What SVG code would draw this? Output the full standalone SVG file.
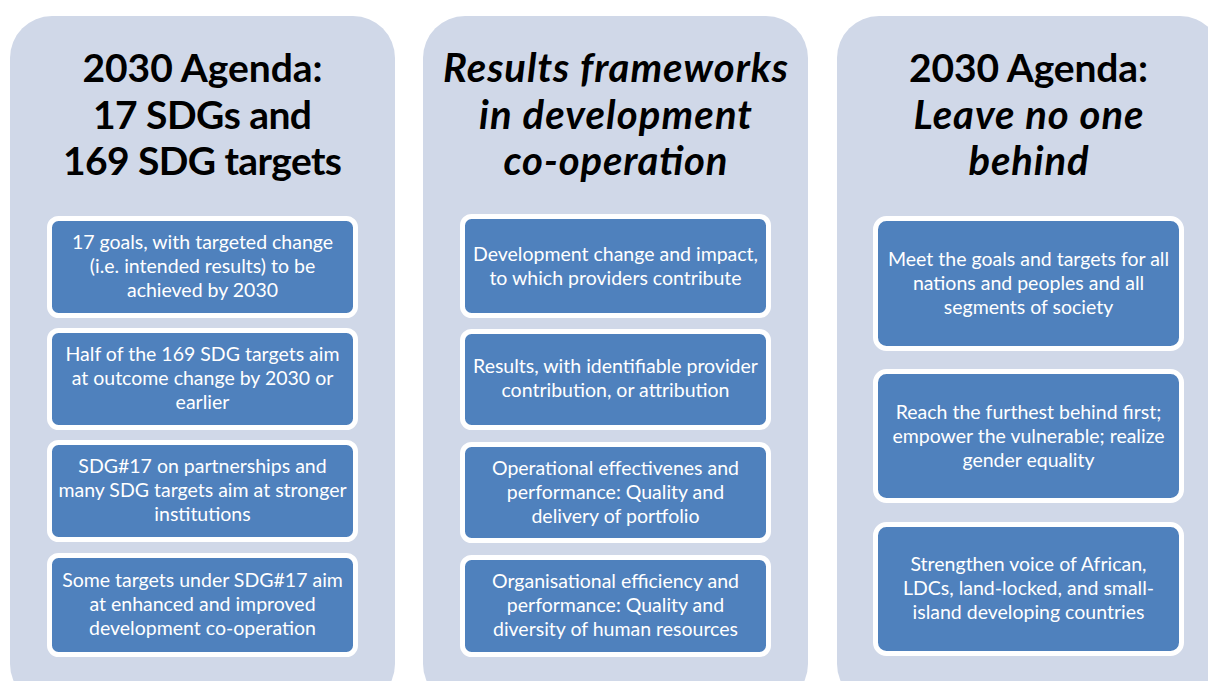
<svg xmlns="http://www.w3.org/2000/svg" width="1208" height="681" viewBox="0 0 1208 681">
<style>
.panel{fill:#D0D8E8;}
.box{fill:#4F81BD;stroke:#FFFFFF;stroke-width:5;}
.title{font-family:Lato,"Liberation Sans",sans-serif;font-weight:bold;font-size:39px;fill:#000;text-anchor:middle;}
.it{font-style:italic;font-size:40px;}
.t{font-family:Lato,"Liberation Sans",sans-serif;font-size:19.5px;fill:#FFFFFF;text-anchor:middle;}
</style>
<rect width="1208" height="681" fill="#FFFFFF"/>
<g id="panel-left">
<rect class="panel" x="10" y="16" width="385" height="690" rx="42"/>
<text class="title" x="202.5" y="82" textLength="240" lengthAdjust="spacing">2030 Agenda:</text>
<text class="title" x="202.5" y="129" textLength="219" lengthAdjust="spacing">17 SDGs and</text>
<text class="title" x="202.5" y="175" textLength="279" lengthAdjust="spacing">169 SDG targets</text>
</g>
<g id="panel-middle">
<rect class="panel" x="423" y="16" width="385" height="690" rx="42"/>
<text class="title it" x="615.5" y="82" textLength="345" lengthAdjust="spacing">Results frameworks</text>
<text class="title it" x="615.5" y="129" textLength="273" lengthAdjust="spacing">in development</text>
<text class="title it" x="615.5" y="175" textLength="224" lengthAdjust="spacing">co-operation</text>
</g>
<g id="panel-right">
<rect class="panel" x="837" y="16" width="385" height="690" rx="42"/>
<text class="title" x="1028.5" y="82" textLength="239" lengthAdjust="spacing">2030 Agenda:</text>
<text class="title it" x="1028.5" y="129" textLength="230" lengthAdjust="spacing">Leave no one</text>
<text class="title it" x="1028.5" y="175" textLength="120" lengthAdjust="spacing">behind</text>
</g>
<g id="connectors"></g>
<g id="l1"><rect class="box" x="49.5" y="218.5" width="306" height="97" rx="9"/>
<text class="t" x="202.5" y="249">17 goals, with targeted change</text>
<text class="t" x="202.5" y="273">(i.e. intended results) to be</text>
<text class="t" x="202.5" y="297">achieved by 2030</text></g>
<g id="l2"><rect class="box" x="49.5" y="330.5" width="306" height="97" rx="9"/>
<text class="t" x="202.5" y="361">Half of the 169 SDG targets aim</text>
<text class="t" x="202.5" y="385">at outcome change by 2030 or</text>
<text class="t" x="202.5" y="409">earlier</text></g>
<g id="l3"><rect class="box" x="49.5" y="442.5" width="306" height="97" rx="9"/>
<text class="t" x="202.5" y="473">SDG#17 on partnerships and</text>
<text class="t" x="202.5" y="497">many SDG targets aim at stronger</text>
<text class="t" x="202.5" y="521">institutions</text></g>
<g id="l4"><rect class="box" x="49.5" y="555.5" width="306" height="99" rx="9"/>
<text class="t" x="202.5" y="587">Some targets under SDG#17 aim</text>
<text class="t" x="202.5" y="611">at enhanced and improved</text>
<text class="t" x="202.5" y="635">development co-operation</text></g>
<g id="m1"><rect class="box" x="462.5" y="216.5" width="306" height="99" rx="9"/>
<text class="t" x="615.5" y="261">Development change and impact,</text>
<text class="t" x="615.5" y="285">to which providers contribute</text></g>
<g id="m2"><rect class="box" x="462.5" y="331.5" width="306" height="96" rx="9"/>
<text class="t" x="615.5" y="373">Results, with identifiable provider</text>
<text class="t" x="615.5" y="397">contribution, or attribution</text></g>
<g id="m3"><rect class="box" x="462.5" y="444.5" width="306" height="96" rx="9"/>
<text class="t" x="615.5" y="475">Operational effectivenes and</text>
<text class="t" x="615.5" y="499">performance: Quality and</text>
<text class="t" x="615.5" y="523">delivery of portfolio</text></g>
<g id="m4"><rect class="box" x="462.5" y="557.5" width="306" height="97" rx="9"/>
<text class="t" x="615.5" y="588">Organisational efficiency and</text>
<text class="t" x="615.5" y="612">performance: Quality and</text>
<text class="t" x="615.5" y="636">diversity of human resources</text></g>
<g id="r1"><rect class="box" x="875.5" y="218.5" width="306" height="130" rx="11"/>
<text class="t" x="1028.5" y="266">Meet the goals and targets for all</text>
<text class="t" x="1028.5" y="290">nations and peoples and all</text>
<text class="t" x="1028.5" y="314">segments of society</text></g>
<g id="r2"><rect class="box" x="875.5" y="371.5" width="306" height="129" rx="11"/>
<text class="t" x="1028.5" y="419">Reach the furthest behind first;</text>
<text class="t" x="1028.5" y="443">empower the vulnerable; realize</text>
<text class="t" x="1028.5" y="467">gender equality</text></g>
<g id="r3"><rect class="box" x="875.5" y="524.5" width="306" height="129" rx="11"/>
<text class="t" x="1028.5" y="571">Strengthen voice of African,</text>
<text class="t" x="1028.5" y="595">LDCs, land-locked, and small-</text>
<text class="t" x="1028.5" y="619">island developing countries</text></g>
</svg>
